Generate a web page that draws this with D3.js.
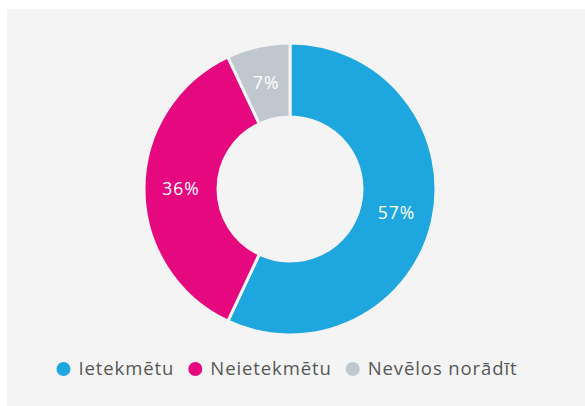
<!DOCTYPE html>
<html>
<head>
<meta charset="utf-8">
<script src="https://cdn.jsdelivr.net/npm/d3@7"></script>
<style>
  html, body { margin: 0; padding: 0; background: #ffffff; }
  svg { display: block; }
</style>
</head>
<body>
<svg id="chart" width="585" height="406"></svg>
<script>
const categories = ["Ietekmētu", "Neietekmētu", "Nevēlos norādīt"];
const values = [57, 36, 7];
const colors = ["#1ea6df", "#e5087e", "#c1c7cf"];

const W = 585, H = 406;
const svg = d3.select("#chart");
const bg = "#f4f4f4";

// panel background
svg.append("rect").attr("x", 7).attr("y", 9).attr("width", W - 7).attr("height", H - 9).attr("fill", bg);

const cx = 290, cy = 189, outerR = 146, innerR = 72;
const data = categories.map((c, i) => ({ name: c, value: values[i], color: colors[i] }));

const pie = d3.pie().value(d => d.value).sort(null);
const arc = d3.arc().innerRadius(innerR).outerRadius(outerR);
const labelArc = d3.arc().innerRadius((innerR + outerR) / 2).outerRadius((innerR + outerR) / 2);

const g = svg.append("g").attr("transform", `translate(${cx},${cy})`);
const arcs = pie(data);

g.selectAll("path.slice").data(arcs).join("path")
  .attr("class", "slice")
  .attr("d", arc)
  .attr("fill", d => d.data.color)
  .attr("stroke", bg)
  .attr("stroke-width", 3)
  .attr("stroke-linejoin", "round");

g.selectAll("text.val").data(arcs).join("text")
  .attr("class", "val")
  .attr("transform", d => `translate(${labelArc.centroid(d)})`)
  .attr("text-anchor", "middle")
  .attr("dy", "0.35em")
  .attr("fill", "#ffffff")
  .style("font-family", "'Open Sans', sans-serif")
  .style("font-size", "17.5px")
  .style("letter-spacing", "1px")
  .text(d => d.data.value + "%");

// legend
const legend = svg.append("g");
const items = legend.selectAll("g.item").data(data).join("g").attr("class", "item");
items.append("circle").attr("r", 7).attr("cx", 7).attr("cy", 0).attr("fill", d => d.color);
items.append("text")
  .attr("x", 22)
  .attr("dy", "0.35em")
  .attr("fill", "#575757")
  .style("font-family", "'Open Sans', sans-serif")
  .style("font-size", "18.5px")
  .style("letter-spacing", "0.9px")
  .text(d => d.name);

let x = 0;
const gap = 14;
items.each(function() {
  const w = this.getBBox().width;
  d3.select(this).attr("transform", `translate(${x},0)`);
  x += w + gap;
});
const total = x - gap;
legend.attr("transform", `translate(${(287 - total / 2)},369)`);
</script>
</body>
</html>
